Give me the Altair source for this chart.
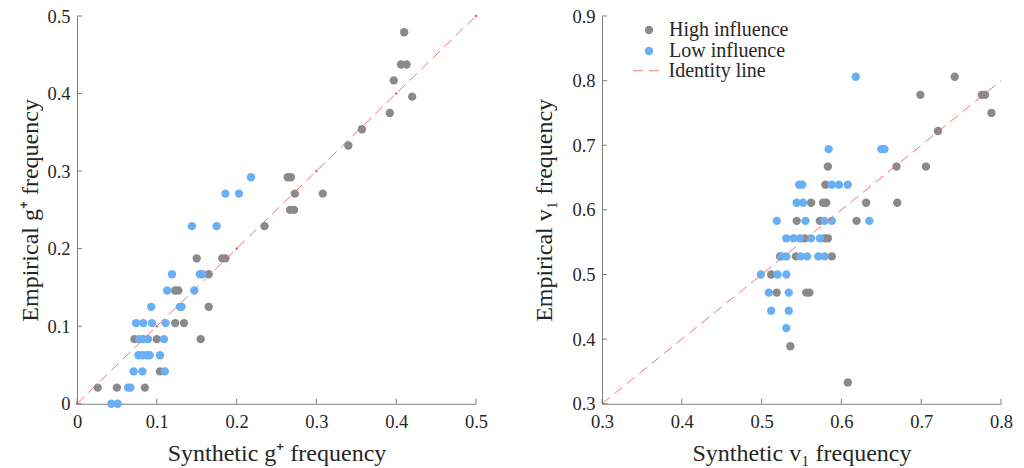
import altair as alt
import pandas as pd

# ---------------- Left panel: g+ frequency ----------------
g_high_x = [0.026, 0.050, 0.085, 0.104, 0.072, 0.100, 0.155, 0.123, 0.134, 0.165,
            0.123, 0.127, 0.165, 0.150, 0.182, 0.186, 0.235, 0.267, 0.272, 0.273,
            0.308, 0.264, 0.268, 0.340, 0.357, 0.392, 0.420, 0.397, 0.406, 0.413, 0.410]
g_high_y = [0.0208, 0.0208, 0.0208, 0.0417, 0.0833, 0.0833, 0.0833, 0.104, 0.104, 0.125,
            0.146, 0.146, 0.167, 0.1875, 0.1875, 0.1875, 0.229, 0.25, 0.25, 0.271,
            0.271, 0.292, 0.292, 0.333, 0.354, 0.375, 0.396, 0.417, 0.4375, 0.4375, 0.479]
g_low_x = [0.043, 0.051, 0.064, 0.067, 0.071, 0.082, 0.110, 0.077, 0.082, 0.087,
           0.091, 0.104, 0.078, 0.083, 0.089, 0.109, 0.074, 0.083, 0.094, 0.111,
           0.093, 0.129, 0.131, 0.113, 0.147, 0.119, 0.154, 0.157, 0.144, 0.175,
           0.186, 0.203, 0.218]
g_low_y = [0.0, 0.0, 0.0208, 0.0208, 0.0417, 0.0417, 0.0417, 0.0625, 0.0625, 0.0625,
           0.0625, 0.0625, 0.0833, 0.0833, 0.0833, 0.0833, 0.104, 0.104, 0.104, 0.104,
           0.125, 0.125, 0.125, 0.146, 0.146, 0.167, 0.167, 0.167, 0.229, 0.229,
           0.271, 0.271, 0.292]
g_ticks = [0, 0.1, 0.2, 0.3, 0.4, 0.5]
g_line = [0, 0.1, 0.2, 0.3, 0.4, 0.5]

# ---------------- Right panel: v1 frequency ----------------
v_high_x = [0.742, 0.699, 0.776, 0.780, 0.788, 0.721, 0.583, 0.669, 0.706, 0.580,
            0.562, 0.577, 0.581, 0.631, 0.670, 0.544, 0.573, 0.619, 0.554, 0.579,
            0.583, 0.523, 0.543, 0.588, 0.512, 0.519, 0.556, 0.560, 0.536, 0.608]
v_high_y = [0.806, 0.778, 0.778, 0.778, 0.750, 0.722, 0.667, 0.667, 0.667, 0.639,
            0.611, 0.611, 0.611, 0.611, 0.611, 0.583, 0.583, 0.583, 0.556, 0.556,
            0.556, 0.528, 0.528, 0.528, 0.500, 0.472, 0.472, 0.472, 0.389, 0.333]
v_low_x = [0.618, 0.584, 0.650, 0.654, 0.547, 0.551, 0.588, 0.597, 0.608, 0.544,
           0.552, 0.519, 0.555, 0.579, 0.588, 0.635, 0.531, 0.540, 0.548, 0.562,
           0.573, 0.525, 0.531, 0.549, 0.557, 0.571, 0.579, 0.499, 0.520, 0.531,
           0.509, 0.534, 0.512, 0.534, 0.531]
v_low_y = [0.806, 0.694, 0.694, 0.694, 0.639, 0.639, 0.639, 0.639, 0.639, 0.611,
           0.611, 0.583, 0.583, 0.583, 0.583, 0.583, 0.556, 0.556, 0.556, 0.556,
           0.556, 0.528, 0.528, 0.528, 0.528, 0.528, 0.528, 0.500, 0.500, 0.500,
           0.472, 0.472, 0.444, 0.444, 0.417]
v_xticks = [0.3, 0.4, 0.5, 0.6, 0.7, 0.8]
v_yticks = [0.3, 0.4, 0.5, 0.6, 0.7, 0.8, 0.9]
v_line = [0.3, 0.8]

groups = ["High influence", "Low influence"]

W, H = 399, 387.75
FONT = "Liberation Serif"
GRAY = "#8a8a8a"
BLUE = "#69aff4"
RED = "#e46868"
AX = "#7f7f7f"
TXT = "#262626"


def panel(hx, hy, lx, ly, xdom, ydom, xticks, yticks, line_vals, xtitle, ytitle,
          legend, markers, ytitle_pad):
    pts = pd.DataFrame({
        "x": hx + lx,
        "y": hy + ly,
        "group": [groups[0]] * len(hx) + [groups[1]] * len(lx),
    })
    xs = alt.Scale(domain=xdom, nice=False, zero=False)
    ys = alt.Scale(domain=ydom, nice=False, zero=False)
    xaxis = alt.Axis(values=xticks, format=".1~f", title=xtitle, labelPadding=9,
                     titlePadding=10)
    yaxis = alt.Axis(values=yticks, format=".1~f", title=ytitle, labelPadding=7,
                     titlePadding=ytitle_pad)

    if legend:
        col_legend = alt.Legend(
            title=None, orient="none", legendX=37, legendY=4,
            symbolType="circle", symbolSize=70, symbolOpacity=1,
            labelFont=FONT, labelFontSize=20, labelColor=TXT,
            labelOffset=10, rowPadding=1, padding=0,
        )
    else:
        col_legend = None

    points = alt.Chart(pts).mark_circle(size=70, opacity=1, clip=False).encode(
        x=alt.X("x:Q", scale=xs, axis=xaxis),
        y=alt.Y("y:Q", scale=ys, axis=yaxis),
        color=alt.Color("group:N", scale=alt.Scale(domain=groups, range=[GRAY, BLUE]),
                        legend=col_legend),
    )

    ldf = pd.DataFrame({"v": line_vals, "name": ["Identity line"] * len(line_vals)})
    if legend:
        dash_legend = alt.Legend(
            title=None, orient="none", legendX=30.5, legendY=40.25,
            symbolType="stroke", symbolSize=784, symbolStrokeColor=RED,
            symbolStrokeWidth=1, symbolDash=[10, 6], symbolOpacity=0.9,
            labelFont=FONT, labelFontSize=20, labelColor=TXT,
            labelOffset=7, padding=0,
        )
    else:
        dash_legend = None
    line = alt.Chart(ldf).mark_line(color=RED, strokeWidth=1, opacity=0.9).encode(
        x=alt.X("v:Q", scale=xs, axis=xaxis),
        y=alt.Y("v:Q", scale=ys, axis=yaxis),
        strokeDash=alt.StrokeDash("name:N",
                                  scale=alt.Scale(domain=["Identity line"], range=[[10, 6]]),
                                  legend=dash_legend),
    )

    xt = alt.Chart(pd.DataFrame({"t": xticks})).mark_rule(color=AX, strokeWidth=1).encode(
        x=alt.X("t:Q", scale=xs, axis=xaxis), y=alt.value(H), y2=alt.value(H - 5))
    yt = alt.Chart(pd.DataFrame({"t": yticks})).mark_rule(color=AX, strokeWidth=1).encode(
        y=alt.Y("t:Q", scale=ys, axis=yaxis), x=alt.value(0), x2=alt.value(5))

    layers = [points, line, xt, yt]
    if markers:
        dots = alt.Chart(ldf).mark_circle(size=7, color=RED, opacity=1, clip=False).encode(
            x=alt.X("v:Q", scale=xs, axis=xaxis), y=alt.Y("v:Q", scale=ys, axis=yaxis))
        layers.append(dots)
    return alt.layer(*layers).properties(width=W, height=H)


left = panel(g_high_x, g_high_y, g_low_x, g_low_y, [0, 0.5], [0, 0.5], g_ticks, g_ticks,
             g_line, "Synthetic g⁺ frequency", "Empirical g⁺ frequency",
             False, True, 4.5)
right = panel(v_high_x, v_high_y, v_low_x, v_low_y, [0.3, 0.8], [0.3, 0.9], v_xticks, v_yticks,
              v_line, "Synthetic v₁ frequency", "Empirical v₁ frequency",
              True, False, 15)

chart = alt.hconcat(left, right, spacing=44).resolve_scale(
    color="independent", strokeDash="independent"
).properties(
    padding={"left": 10, "top": -1, "right": 0, "bottom": 0}
).configure_view(stroke=None).configure_axis(
    grid=False, ticks=False, domainColor=AX, domainWidth=1,
    labelFont=FONT, labelFontSize=18.5, labelColor=TXT, labelFlush=False,
    titleFont=FONT, titleFontSize=24, titleFontWeight="normal", titleColor=TXT,
)

chart.save("out.html", embed_options={"renderer": "svg", "actions": False})
